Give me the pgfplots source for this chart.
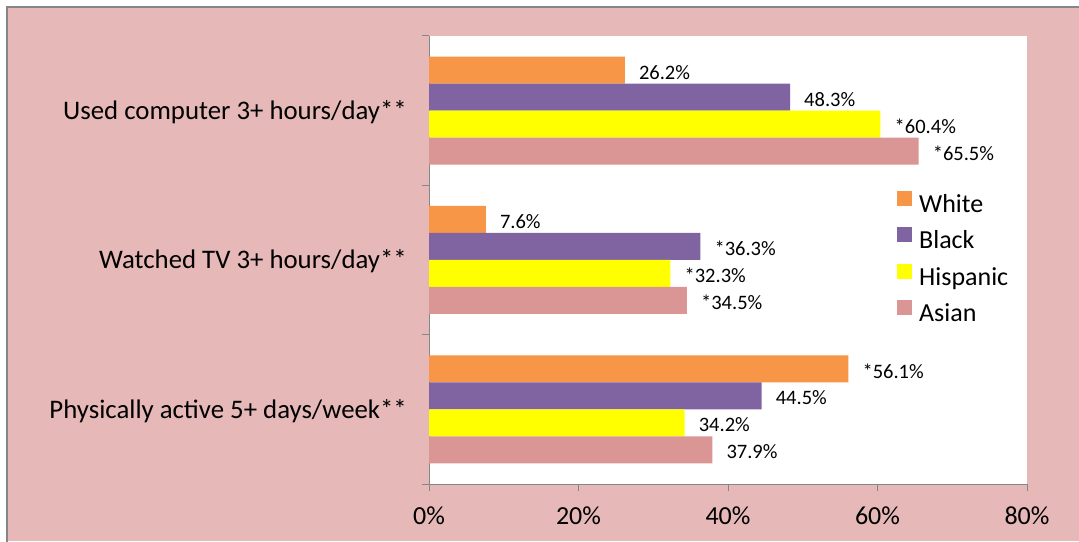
\documentclass[border=0pt]{standalone}
\usepackage{pgfplots}
\pgfplotsset{compat=1.18}
\usepackage{fontspec}
\setmainfont{Carlito}
\definecolor{bgpink}{HTML}{E6B9B8}
\definecolor{cWhite}{HTML}{F79646}
\definecolor{cBlack}{HTML}{8064A2}
\definecolor{cHisp}{HTML}{FFFF00}
\definecolor{cAsian}{HTML}{D99694}
\definecolor{axgray}{HTML}{868686}
\begin{document}
\begin{tikzpicture}[x=1pt,y=1pt]
\path[use as bounding box] (0,0) rectangle (1079,541);
\fill[bgpink] (7,0) rectangle (1079,534);
\draw[axgray, line width=1.5pt] (7,-2) -- (7,534) -- (1081,534);
\begin{axis}[
  at={(429pt,57pt)}, anchor=south west,
  scale only axis, width=598pt, height=448pt,
  xmin=0, xmax=80, ymin=-0.5, ymax=2.5,
  xbar, bar width=27pt,
  axis background/.style={fill=white},
  axis x line*=bottom, axis y line*=left,
  axis line style={axgray, line width=1pt},
  xtick={0,20,40,60,80}, xticklabels={0\%,20\%,40\%,60\%,80\%},
  ytick={0,1,2},
  yticklabels={Physically active 5+ days/week**, Watched TV 3+ hours/day**, Used computer 3+ hours/day**},
  minor ytick={-0.5,0.5,1.5,2.5},
  tick align=outside,
  major tick length=7pt, minor tick length=7pt,
  every major y tick/.append style={draw=none},
  tick style={axgray, line width=1pt},
  xticklabel style={font=\fontsize{26}{30}\selectfont, inner sep=0pt, yshift=-16pt},
  yticklabel style={font=\fontsize{26.8}{30}\selectfont, inner sep=0pt, xshift=-15pt, yshift=-1.5pt},
  nodes near coords={\pgfplotspointmeta},
  point meta=explicit symbolic,
  every node near coord/.append style={anchor=west, inner sep=0pt, xshift=14pt, yshift=-2pt, font=\fontsize{20.5}{24}\selectfont, text=black},
  legend cell align=left,
  legend style={draw=none, fill=none, inner sep=0pt, at={(rel axis cs:0.7826,0.655)}, anchor=north west,
    font=\fontsize{26}{30}\selectfont, row sep=10pt,
    nodes={inner sep=0pt, text height=18pt, text depth=5pt},
    /tikz/every odd column/.append style={column sep=7pt}},
  mybar/.style={draw=none, fill=#1,
    legend image code/.code={\fill[#1] (0pt,0pt) rectangle (15pt,15pt);}},
]
\addplot[mybar=cWhite, bar shift=40.5pt] coordinates {(56.1,0) [*56.1\%] (7.6,1) [7.6\%] (26.2,2) [26.2\%]};
\addplot[mybar=cBlack, bar shift=13.5pt] coordinates {(44.5,0) [44.5\%] (36.3,1) [*36.3\%] (48.3,2) [48.3\%]};
\addplot[mybar=cHisp, bar shift=-13.5pt] coordinates {(34.2,0) [34.2\%] (32.3,1) [*32.3\%] (60.4,2) [*60.4\%]};
\addplot[mybar=cAsian, bar shift=-40.5pt] coordinates {(37.9,0) [37.9\%] (34.5,1) [*34.5\%] (65.5,2) [*65.5\%]};
\legend{White, Black, Hispanic, Asian}
\end{axis}
\end{tikzpicture}
\end{document}
